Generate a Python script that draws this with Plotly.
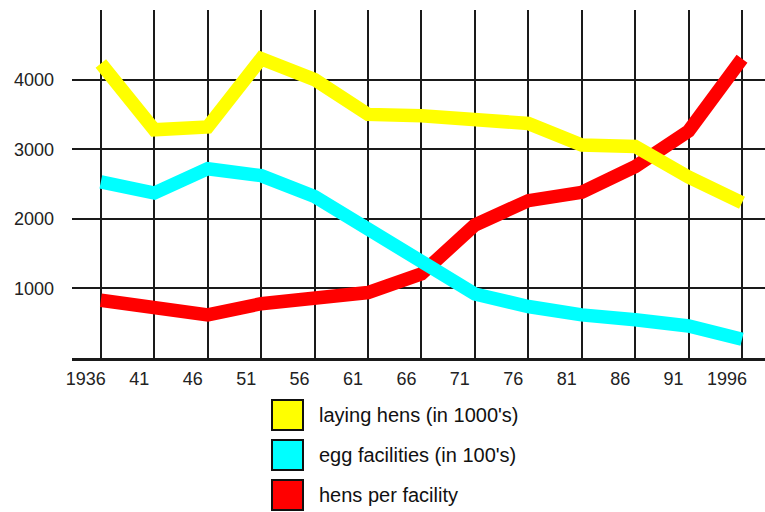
import plotly.graph_objects as go

# Survey years (every five years) and their axis labels
years = [1936, 1941, 1946, 1951, 1956, 1961, 1966, 1971, 1976, 1981, 1986, 1991, 1996]
year_labels = ["1936", "41", "46", "51", "56", "61", "66", "71", "76", "81", "86", "91", "1996"]

# Series values
laying_hens = [4230, 3280, 3320, 4300, 4000, 3500, 3480, 3440, 3370, 3060, 3040, 2600, 2230]
egg_facilities = [2530, 2370, 2720, 2620, 2320, 1850, 1420, 920, 740, 620, 550, 460, 270]
hens_per_facility = [830, 710, 620, 780, 870, 940, 1210, 1910, 2260, 2380, 2750, 3260, 4300]

y_ticks = [1000, 2000, 3000, 4000]

series = [
    ("hens per facility", hens_per_facility, "#ff0000"),
    ("egg facilities (in 100's)", egg_facilities, "#00ffff"),
    ("laying hens (in 1000's)", laying_hens, "#ffff00"),
]
legend_order = ["laying hens (in 1000's)", "egg facilities (in 100's)", "hens per facility"]

W, H = 765, 512
M_L, M_R, M_T, M_B = 72, 0, 10, 154

fig = go.Figure()
for name, vals, color in series:
    fig.add_trace(go.Scatter(
        x=years, y=vals, name=name, mode="lines",
        line=dict(color=color, width=13.5),
        showlegend=False, hoverinfo="skip",
    ))

FONT = "Liberation Sans, Arial, sans-serif"
label_font = dict(family=FONT, size=18, color="#222")

fig.update_xaxes(
    range=[1933.3, 1998.15],
    tickvals=years, ticktext=year_labels,
    showgrid=True, gridcolor="#1a1a1a", gridwidth=2,
    showline=True, linecolor="#1a1a1a", linewidth=2.5,
    zeroline=False, ticks="", ticklabelshift=-15, ticklabelstandoff=3,
    tickfont=label_font, fixedrange=True,
)
fig.update_yaxes(
    range=[0, 5000],
    tickvals=y_ticks, ticktext=[str(v) for v in y_ticks],
    showgrid=True, gridcolor="#1a1a1a", gridwidth=2,
    showline=False, zeroline=False, ticks="", ticklabelstandoff=17,
    tickfont=label_font, fixedrange=True,
)

# Custom legend: outlined colour squares with labels below the plot
plot_w = W - M_L - M_R
plot_h = H - M_T - M_B


def px_x(px):
    return (px - M_L) / plot_w


def px_y(py):
    return (H - M_B - py) / plot_h


color_of = {name: color for name, _, color in series}
box_left, box_size, row_top, row_step = 272, 31, 400, 40
for i, name in enumerate(legend_order):
    top = row_top + i * row_step
    fig.add_shape(
        type="rect", xref="paper", yref="paper",
        x0=px_x(box_left), x1=px_x(box_left + box_size),
        y0=px_y(top + 30), y1=px_y(top),
        fillcolor=color_of[name], line=dict(color="#111", width=2),
    )
    fig.add_annotation(
        xref="paper", yref="paper",
        x=px_x(317), y=px_y(top + 15),
        xanchor="left", yanchor="middle", showarrow=False,
        text=name, font=dict(family=FONT, size=20, color="#111"),
    )

fig.update_layout(
    width=W, height=H, autosize=False,
    margin=dict(l=M_L, r=M_R, t=M_T, b=M_B),
    paper_bgcolor="white", plot_bgcolor="white",
    showlegend=False,
)

fig.write_html("out.html", config={"displayModeBar": False})
